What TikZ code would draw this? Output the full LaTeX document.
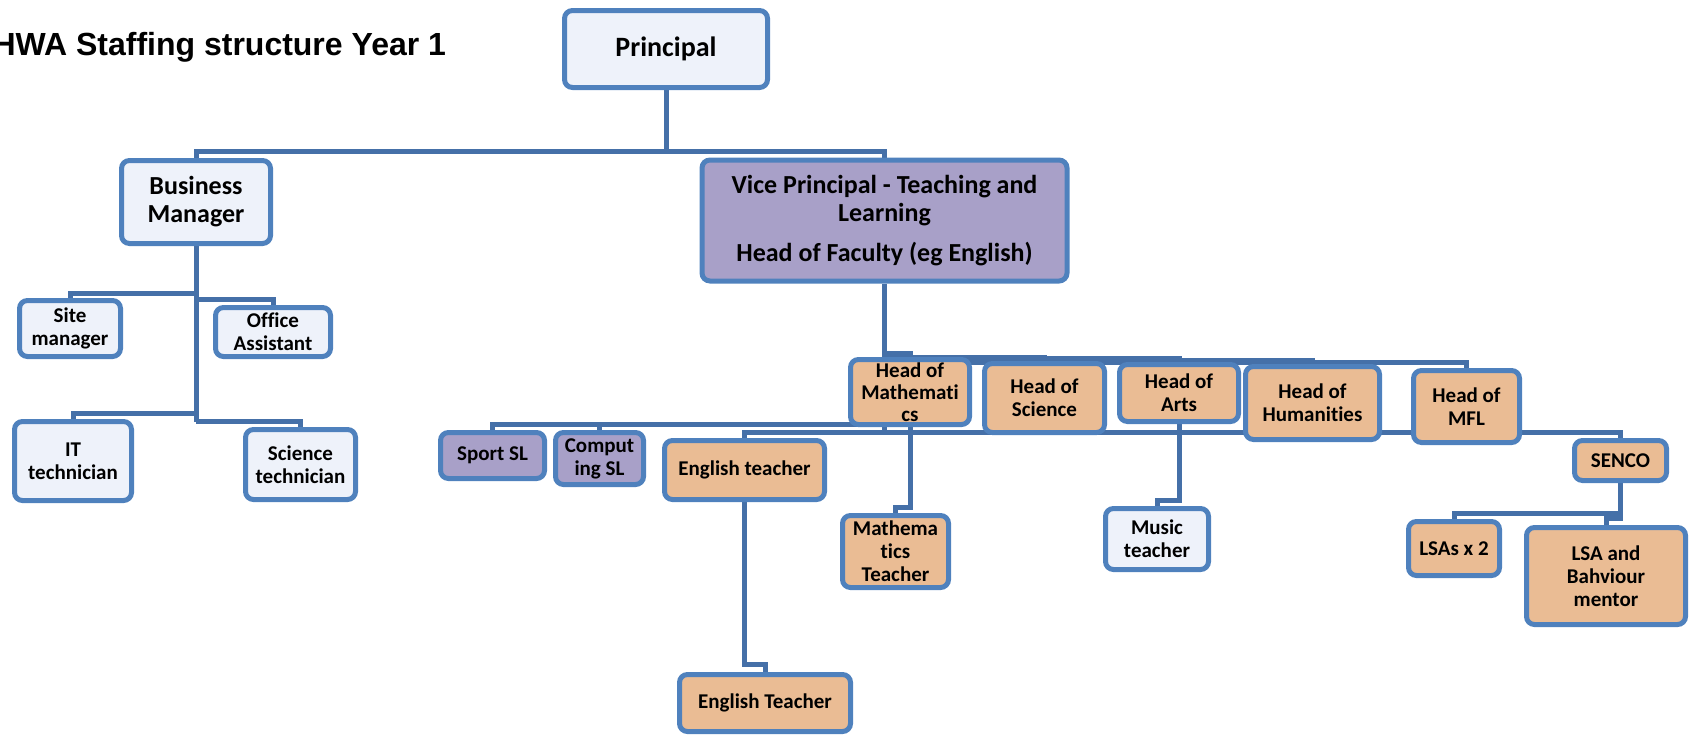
\documentclass[tikz,border=0pt]{standalone}
\usepackage{fontspec}
\setmainfont[Ligatures=CommonOff]{Carlito}
\newfontfamily\titlefont[Ligatures=CommonOff]{Liberation Sans}
\usetikzlibrary{backgrounds}
\definecolor{HWABorder}{HTML}{4F81BD}
\definecolor{HWALink}{HTML}{4570A8}
\definecolor{HWAPale}{HTML}{EEF2FA}
\definecolor{HWAPurple}{HTML}{A8A0C8}
\definecolor{HWAOrange}{HTML}{EABC94}

\begin{document}
\begin{tikzpicture}[x=1pt,y=-1pt,
  box/.style={draw=HWABorder,line width=5pt,rounded corners=8pt,align=center,
    inner sep=1pt,font=\bfseries\fontsize{21}{23}\selectfont},
  pale/.style={box,fill=HWAPale},
  lilac/.style={box,fill=HWAPurple},
  peach/.style={box,fill=HWAOrange},
  link/.style={draw=HWALink,line width=5pt}]
\useasboundingbox (0,0) rectangle (1690,736);
\node[anchor=base west,font=\titlefont\bfseries\fontsize{32}{36}\selectfont] (title) at (-11,55) {HWA Staffing structure Year 1};

% top of the tree
\node[pale,minimum width=203pt,minimum height=77pt,font=\bfseries\fontsize{28}{32}\selectfont] (principal) at (666,49) {Principal};
\node[pale,minimum width=149pt,minimum height=83pt,font=\bfseries\fontsize{26}{28}\selectfont] (bm) at (196,202) {Business\\Manager};
\node[lilac,minimum width=365pt,minimum height=121pt,font=\bfseries\fontsize{26}{28}\selectfont] (vp) at (884.5,220.5) {Vice Principal - Teaching and\\Learning\\[12pt]Head of Faculty (eg English)};

% business side
\node[pale,minimum width=101pt,minimum height=56pt] (site) at (70,328.5) {Site\\manager};
\node[pale,minimum width=115pt,minimum height=49pt] (office) at (273,332) {Office\\Assistant};
\node[pale,minimum width=117pt,minimum height=79pt] (ittech) at (73,461) {IT\\technician};
\node[pale,minimum width=110pt,minimum height=70pt] (scitech) at (300.5,464.5) {Science\\technician};

% teaching side
\node[lilac,minimum width=104pt,minimum height=46pt] (sport) at (492.5,455.5) {Sport SL};
\node[lilac,minimum width=88pt,minimum height=52pt] (comp) at (599.5,458.5) {Comput\\ing SL};
\node[peach,minimum width=160pt,minimum height=59pt] (engt) at (744.5,470) {English teacher};
\node[peach,minimum width=171pt,minimum height=57pt] (engt2) at (765,703) {English Teacher};
\node[peach,minimum width=119pt,minimum height=65pt,inner ysep=0pt,font=\bfseries\fontsize{21}{22}\selectfont] (hmath) at (910,392) {Head of\\Mathemati\\cs};
\node[peach,minimum width=120pt,minimum height=69pt] (hsci) at (1044.5,398) {Head of\\Science};
\node[peach,minimum width=119pt,minimum height=57pt] (harts) at (1179,393) {Head of\\Arts};
\node[peach,minimum width=134pt,minimum height=73pt] (hhum) at (1312.5,403) {Head of\\Humanities};
\node[peach,minimum width=106pt,minimum height=72pt] (hmfl) at (1466.5,406.5) {Head of\\MFL};
\node[peach,minimum width=92pt,minimum height=40pt] (senco) at (1620.5,460.5) {SENCO};
\node[peach,minimum width=91pt,minimum height=54pt] (lsas) at (1454,548.5) {LSAs x 2};
\node[peach,minimum width=159pt,minimum height=97pt] (lsab) at (1606,576) {LSA and\\Bahviour\\mentor};
\node[pale,minimum width=103pt,minimum height=61pt] (music) at (1157,539) {Music\\teacher};
\node[peach,minimum width=106pt,minimum height=72pt] (mtch) at (895.5,551.5) {Mathema\\tics\\Teacher};

\begin{scope}[on background layer]
% principal
\draw[link] (principal.south) -- (principal.south |- 0,151);
\draw[link] (bm.north) |- (principal.south |- 0,151) -| (vp.north);
% business manager
\draw[link] (bm.south) -- (bm.south |- 0,422);
\draw[link] (site.north) |- (bm.south |- 0,293);
\draw[link] (office.north) |- (bm.south |- 0,299);
\draw[link] (ittech.north) |- (bm.south |- 0,413);
\draw[link] (scitech.north) |- (bm.south |- 0,421);
% vice principal
\draw[link] (vp.south) -- (vp.south |- 0,432);
\draw[link] (hmath.north) |- (vp.south |- 0,353);
\draw[link] (hsci.north) |- (vp.south |- 0,357);
\draw[link] (harts.north) |- (vp.south |- 0,358);
\draw[link] (hhum.north) |- (vp.south |- 0,360);
\draw[link] (hmfl.north) |- (vp.south |- 0,362);
\draw[link] (sport.north) |- (vp.south |- 0,424);
\draw[link] (comp.north) |- (vp.south |- 0,424);
\draw[link] (engt.north) |- (vp.south |- 0,432);
\draw[link] (senco.north) |- (vp.south |- 0,432);
% lower levels
\draw[link] (hmath.south) -- (hmath.south |- 0,507) -| (mtch.north);
\draw[link] (harts.south) -- (harts.south |- 0,500) -| (music.north);
\draw[link] (engt.south) -- (engt.south |- 0,664) -| (engt2.north);
\draw[link] (senco.south) -- (senco.south |- 0,518) -| (lsab.north);
\draw[link] (senco.south |- 0,513) -| (lsas.north);
\end{scope}
\end{tikzpicture}
\end{document}
